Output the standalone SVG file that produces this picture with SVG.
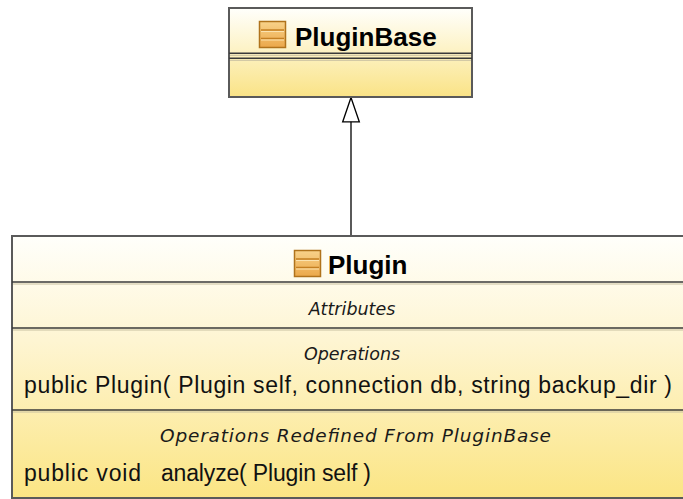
<svg xmlns="http://www.w3.org/2000/svg" width="683" height="499" viewBox="0 0 683 499">
  <defs>
    <linearGradient id="gBase" x1="0" y1="0" x2="0" y2="1">
      <stop offset="0" stop-color="#fffffc"/>
      <stop offset="0.45" stop-color="#fdf3c8"/>
      <stop offset="1" stop-color="#fae386"/>
    </linearGradient>
    <linearGradient id="gPlugin" x1="0" y1="0" x2="0" y2="1">
      <stop offset="0" stop-color="#fffffb"/>
      <stop offset="0.4" stop-color="#fef5d2"/>
      <stop offset="1" stop-color="#fbe584"/>
    </linearGradient>
    <linearGradient id="gIcon" x1="0" y1="0" x2="0" y2="1">
      <stop offset="0" stop-color="#f8d28a"/>
      <stop offset="1" stop-color="#eba84a"/>
    </linearGradient>
    <g id="classIcon">
      <rect x="0.5" y="0.5" width="26" height="26" fill="url(#gIcon)" stroke="#b0731c" stroke-width="1.5"/>
      <line x1="2" y1="9" x2="25" y2="9" stroke="#c47f22" stroke-width="1.5"/>
      <line x1="2" y1="17.5" x2="25" y2="17.5" stroke="#c47f22" stroke-width="1.5"/>
      <line x1="2" y1="10.5" x2="25" y2="10.5" stroke="#fbe3b0" stroke-width="1"/>
      <line x1="2" y1="19" x2="25" y2="19" stroke="#fbe3b0" stroke-width="1"/>
    </g>
    <marker id="hollowTri" markerUnits="userSpaceOnUse" markerWidth="28" markerHeight="20" refX="24" refY="9" orient="auto" viewBox="-1 0 27 18">
      <path d="M24 9 L0.5 1 L0.5 17 Z" fill="#ffffff" stroke="#000000" stroke-width="1.3"/>
    </marker>
  </defs>
  <style>
    .box { stroke: #5a5a5a; stroke-width: 2; }
    .sep { stroke: #3a3a3a; stroke-width: 1.6; }
    .sepl { stroke: #c8c0a0; stroke-width: 1; }
    .title { font-family: "Liberation Sans", Arial, sans-serif; font-weight: bold; font-size: 26px; fill: #000; }
    .comp { font-family: "DejaVu Sans", Verdana, sans-serif; font-style: italic; font-size: 17.5px; fill: #1a1a1a; text-anchor: middle; }
    .body { font-family: "Liberation Sans", Arial, sans-serif; font-size: 23px; fill: #111; }
    .conn { stroke: #000; stroke-width: 1.3; fill: none; }
  </style>

  <g id="connectors">
    <line class="conn" x1="351" y1="237" x2="351" y2="97.5" marker-end="url(#hollowTri)"/>
  </g>

  <g id="PluginBase">
    <rect class="box" x="229" y="8" width="243" height="89" fill="url(#gBase)"/>
    <line class="sep" x1="229" y1="53.3" x2="472" y2="53.3"/>
    <line class="sepl" x1="230" y1="55.3" x2="471" y2="55.3"/>
    <line class="sep" x1="229" y1="58.3" x2="472" y2="58.3"/>
    <line class="sepl" x1="230" y1="60.3" x2="471" y2="60.3"/>
    <use href="#classIcon" x="259" y="21"/>
    <text class="title" x="295" y="45.5">PluginBase</text>
  </g>

  <g id="Plugin">
    <rect class="box" x="12" y="236" width="682" height="262" fill="url(#gPlugin)"/>
    <line class="sep" x1="12" y1="282" x2="694" y2="282"/>
    <line class="sepl" x1="13" y1="284" x2="694" y2="284"/>
    <line class="sep" x1="12" y1="328" x2="694" y2="328"/>
    <line class="sepl" x1="13" y1="330" x2="694" y2="330"/>
    <line class="sep" x1="12" y1="410" x2="694" y2="410"/>
    <line class="sepl" x1="13" y1="412" x2="694" y2="412"/>
    <use href="#classIcon" x="294" y="250"/>
    <text class="title" x="328" y="273.5">Plugin</text>
    <text class="comp" x="352" y="315">Attributes</text>
    <text class="comp" x="352" y="360">Operations</text>
    <text class="body" x="24" y="393" textLength="648" lengthAdjust="spacing">public Plugin( Plugin self, connection db, string backup_dir )</text>
    <text class="comp" x="355.5" y="442" style="font-size:18.5px" textLength="391" lengthAdjust="spacing">Operations Redefined From PluginBase</text>
    <text class="body" x="24" y="481" textLength="117" lengthAdjust="spacing">public void</text>
    <text class="body" x="161" y="481" textLength="210" lengthAdjust="spacing">analyze( Plugin self )</text>
  </g>
</svg>
